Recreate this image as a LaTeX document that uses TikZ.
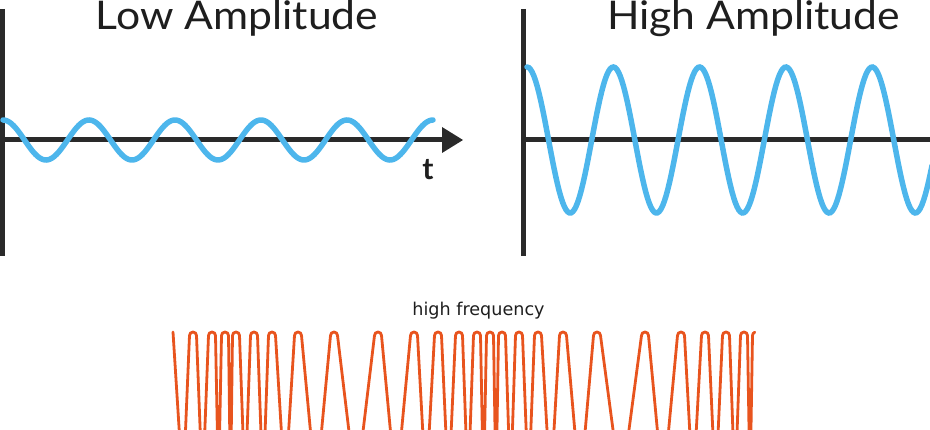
\documentclass[tikz,border=0pt]{standalone}
\usepackage{fontspec}
\setmainfont{Lato}
\newfontfamily\labelfont{DejaVu Sans}
\definecolor{axisgray}{HTML}{2A2A2A}
\definecolor{waveblue}{HTML}{4DB6EC}
\definecolor{fmorange}{HTML}{E8541E}
\definecolor{textgray}{HTML}{1E1E1E}
\begin{document}
\begin{tikzpicture}[x=1pt,y=-1pt,
  axisline/.style={draw=axisgray,line width=5pt},
  bluewave/.style={draw=waveblue,line width=5.5pt,line cap=round},
  fmwave/.style={draw=fmorange,line width=2.8pt,line join=round,line cap=round},
  title/.style={font=\fontsize{39.5}{42}\selectfont,text=textgray,inner sep=0pt,anchor=base,xscale=1.08},
  tlabel/.style={font=\bfseries\fontsize{30}{32}\selectfont,text=textgray,inner sep=0pt,anchor=base},
  freqlabel/.style={font=\labelfont\fontsize{17.6}{20}\selectfont,text=textgray,inner sep=0pt,anchor=base}]
\useasboundingbox (0,0) rectangle (930,430);
\begin{scope}
\clip (0,0) rectangle (930,430);
% left panel
\draw[axisline] (2.5,9) -- (2.5,256);
\draw[axisline] (0,140) -- (444,140);
\fill[axisgray] (442,127) -- (463,140) -- (442,153) -- cycle;
\draw[bluewave] plot[domain=3:433,samples=240] (\x,{140-20*cos((\x-3)*4.18605)});
\node[tlabel] (tl) at (428,180) {t};
\node[title] (lowtitle) at (237,29.5) {Low Amplitude};
% right panel
\draw[axisline] (523,9) -- (523,256);
\draw[axisline] (521,140) -- (932,140);
\draw[bluewave] plot[domain=527:932,samples=240] (\x,{140-73*cos((\x-527)*4.17149)});
\node[title] (hightitle) at (753.5,29.5) {High Amplitude};
% bottom FM signal
\node[freqlabel] (freq) at (478.5,316) {high frequency};
\draw[fmwave] (173,332) -- (183,490)
  \foreach \p/\b in {193/202.5,212/218.5,225/230.5,236/245,254/263,272/285,298/316,334/356,378/396,414/426,438/448.5,459/468,477/483.5,490/496,502/510.5,519/528.5,538/550.5,563/580,597/621,645/663,681/693,705/715.5,726/735,744/750}
  { -- ({\p-3.5},335.5) arc[start angle=180,end angle=360,radius=3.5] -- (\b,490) }
  -- (752.5,335.5) arc[start angle=180,end angle=250,radius=3.5];
\end{scope}
\end{tikzpicture}
\end{document}
